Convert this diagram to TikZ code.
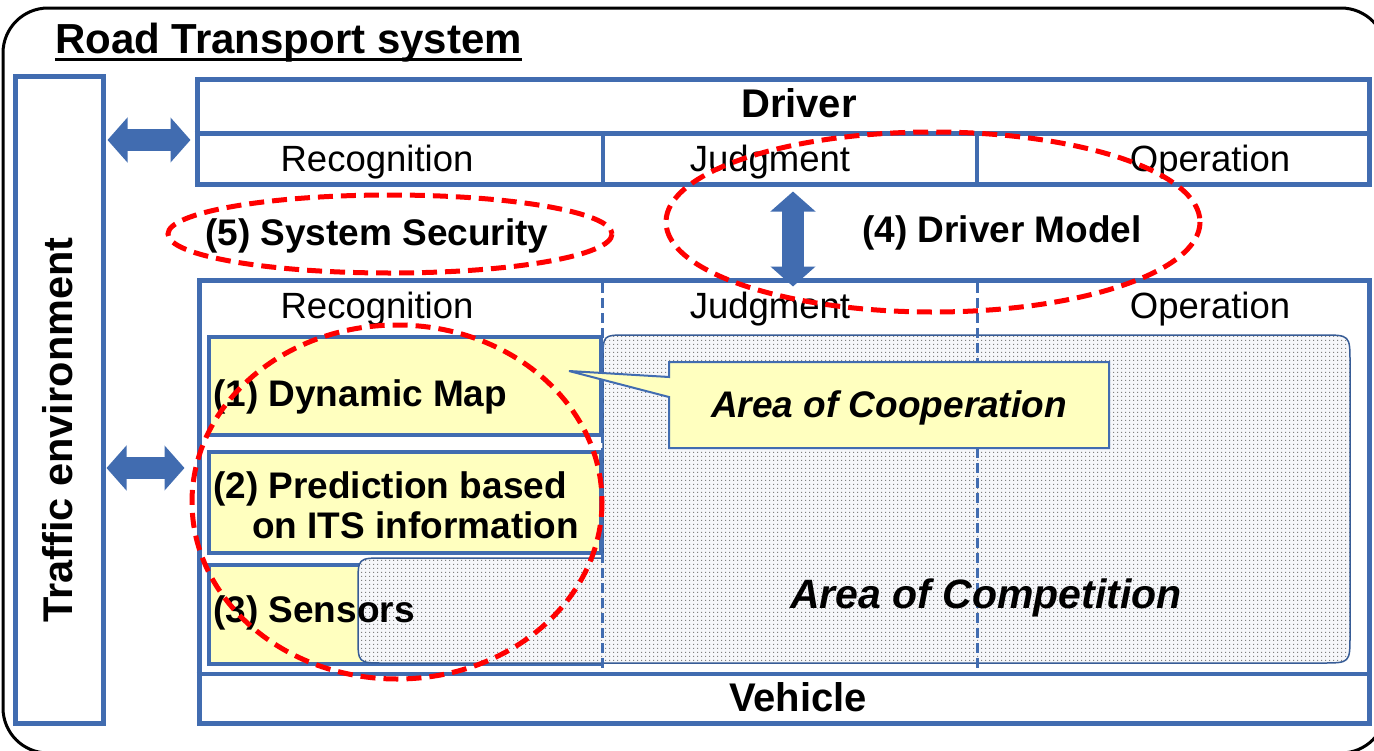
\documentclass[tikz,border=0pt]{standalone}
\usepackage{fontspec}
\setmainfont{Liberation Sans}
\usetikzlibrary{arrows.meta,patterns.meta}
\definecolor{bl}{HTML}{416CB0}
\definecolor{yl}{HTML}{FFFFBF}
\definecolor{rd}{HTML}{FF0000}
\definecolor{areabg}{HTML}{F6F7FA}
\newcommand\myfs[1]{\fontsize{#1pt}{#1pt}\selectfont}
\tikzdeclarepattern{
  name=finedots,
  type=uncolored,
  bottom left={(0pt,0pt)},
  top right={(4pt,4pt)},
  tile size={(4pt,4pt)},
  code={\fill (1.4pt,1.4pt) rectangle (2.6pt,2.6pt);}
}
\begin{document}
\begin{tikzpicture}[x=1pt,y=-1pt,
  bluebox/.style={draw=bl, line width=5pt, inner sep=0pt, fill=white},
  ybox/.style={draw=bl, line width=4pt, inner sep=0pt, fill=yl},
  cell/.style={inner sep=0pt, anchor=base, font=\myfs{36.5}},
  btxt/.style={inner sep=0pt, anchor=base west, font=\myfs{37}\bfseries},
  hdr/.style={inner sep=0pt, anchor=base, font=\myfs{40}\bfseries},
  dbl/.style={draw=bl, line width=22pt, {Triangle[width=44pt,length=20pt]}-{Triangle[width=44pt,length=20pt]}},
  reddash/.style={draw=rd, line width=5pt, dash pattern=on 15pt off 8pt},
  vdash/.style={draw=bl, line width=3pt, dash pattern=on 10pt off 5pt},
  divider/.style={draw=bl, line width=3.5pt}]
\useasboundingbox (0,0) rectangle (1374,750);
\begin{scope}
\clip (0,0) rectangle (1374,750);
\draw[line width=3pt, rounded corners=45pt] (3,8) rectangle (1386,753);
\end{scope}
% title
\node[anchor=base west, inner sep=0pt, font=\myfs{42}\bfseries] (title) at (55,53) {Road Transport system};
\draw[line width=3pt] ([yshift=-6pt]title.base west) -- ([yshift=-6pt]title.base east);
% traffic environment
\node[bluebox, minimum width=88pt, minimum height=647pt] (te) at (59,399.5) {};
\node[rotate=90, anchor=base, inner sep=0pt, font=\myfs{41.5}\bfseries] (tetext) at (72,430) {Traffic environment};
% driver
\node[bluebox, minimum width=1172pt, minimum height=105pt] (drv) at (783,132) {};
\draw[draw=bl, line width=5pt] (drv.west |- 0,133.5) -- (drv.east |- 0,133.5);
\draw[divider] (603,133.5) -- (603,184.5);
\draw[divider] (977,133.5) -- (977,184.5);
\node[hdr] (drvt) at (799,117) {Driver};
\node[cell] (drec) at (377,171) {Recognition};
\node[cell] (djud) at (770,171) {Judgment};
\node[cell] (dope) at (1210,171) {Operation};
% vehicle
\node[bluebox, minimum width=1170pt, minimum height=443pt] (veh) at (784,502) {};
\draw[draw=bl, line width=4.5pt] (veh.west |- 0,674) -- (veh.east |- 0,674);
\node[hdr] (veht) at (798,711) {Vehicle};
\node[cell] (vrec) at (377,318) {Recognition};
\node[cell] (vjud) at (770,318) {Judgment};
\node[cell] (vope) at (1210,318) {Operation};
% yellow box 3 (under area)
\node[ybox, minimum width=392pt, minimum height=99pt] (b3) at (405,614.5) {};
% competition area
\path[preaction={fill=areabg}, pattern=finedots, pattern color=black!50, draw=bl!85!black, line width=1.5pt]
  (358,637) -- (358,584) .. controls (358,558) .. (384,558) -- (603,558) -- (603,359)
  .. controls (603,335) .. (627,335) -- (1322,335) .. controls (1350,335) .. (1350,363)
  -- (1350,635) .. controls (1350,663) .. (1322,663) -- (384,663) .. controls (358,663) .. (358,637) -- cycle;
\draw[vdash] (602,283) -- (602,672);
\draw[vdash] (977,283) -- (977,672);
% yellow boxes 1 and 2
\node[ybox, minimum width=392pt, minimum height=98pt] (b1) at (405,386) {};
\node[ybox, minimum width=392pt, minimum height=101pt] (b2) at (405,502.5) {};
\node[btxt] (t1) at (213,406) {(1) Dynamic Map};
\node[btxt] (t2a) at (213,498) {(2) Prediction based};
\node[btxt] (t2b) at (252,538) {on ITS information};
\node[btxt] (t3) at (213,622) {(3) Sensors};
% callout
\filldraw[fill=yl, draw=bl, line width=2pt] (669,362) -- (1109,362) -- (1109,448) -- (669,448) -- (669,397) -- (569,371) -- (669,377) -- cycle;
\node[btxt, font=\myfs{37}\bfseries\itshape] (coop) at (711,417) {Area of Cooperation};
\node[btxt, font=\myfs{41}\bfseries\itshape] (comp) at (790,608) {Area of Competition};
% other labels
\node[btxt] (t5) at (205,245) {(5) System Security};
\node[btxt] (t4) at (862,242) {(4) Driver Model};
% arrows
\draw[dbl, shorten <=2pt, shorten >=4pt] (te.east |- 0,140) -- (drv.west |- 0,140);
\draw[dbl, shorten <=1pt, shorten >=12pt] (te.east |- 0,468) -- (veh.west |- 0,468);
\draw[dbl, shorten <=4.5pt, shorten >=-8.5pt] (drv.south -| 793,0) -- (veh.north -| 793,0);
% red ellipses
\draw[reddash] (390,234) ellipse [x radius=222, y radius=39];
\draw[reddash] (933,222) ellipse [x radius=267, y radius=90];
\draw[reddash] (397,502) ellipse [x radius=205, y radius=177];
\end{tikzpicture}
\end{document}
